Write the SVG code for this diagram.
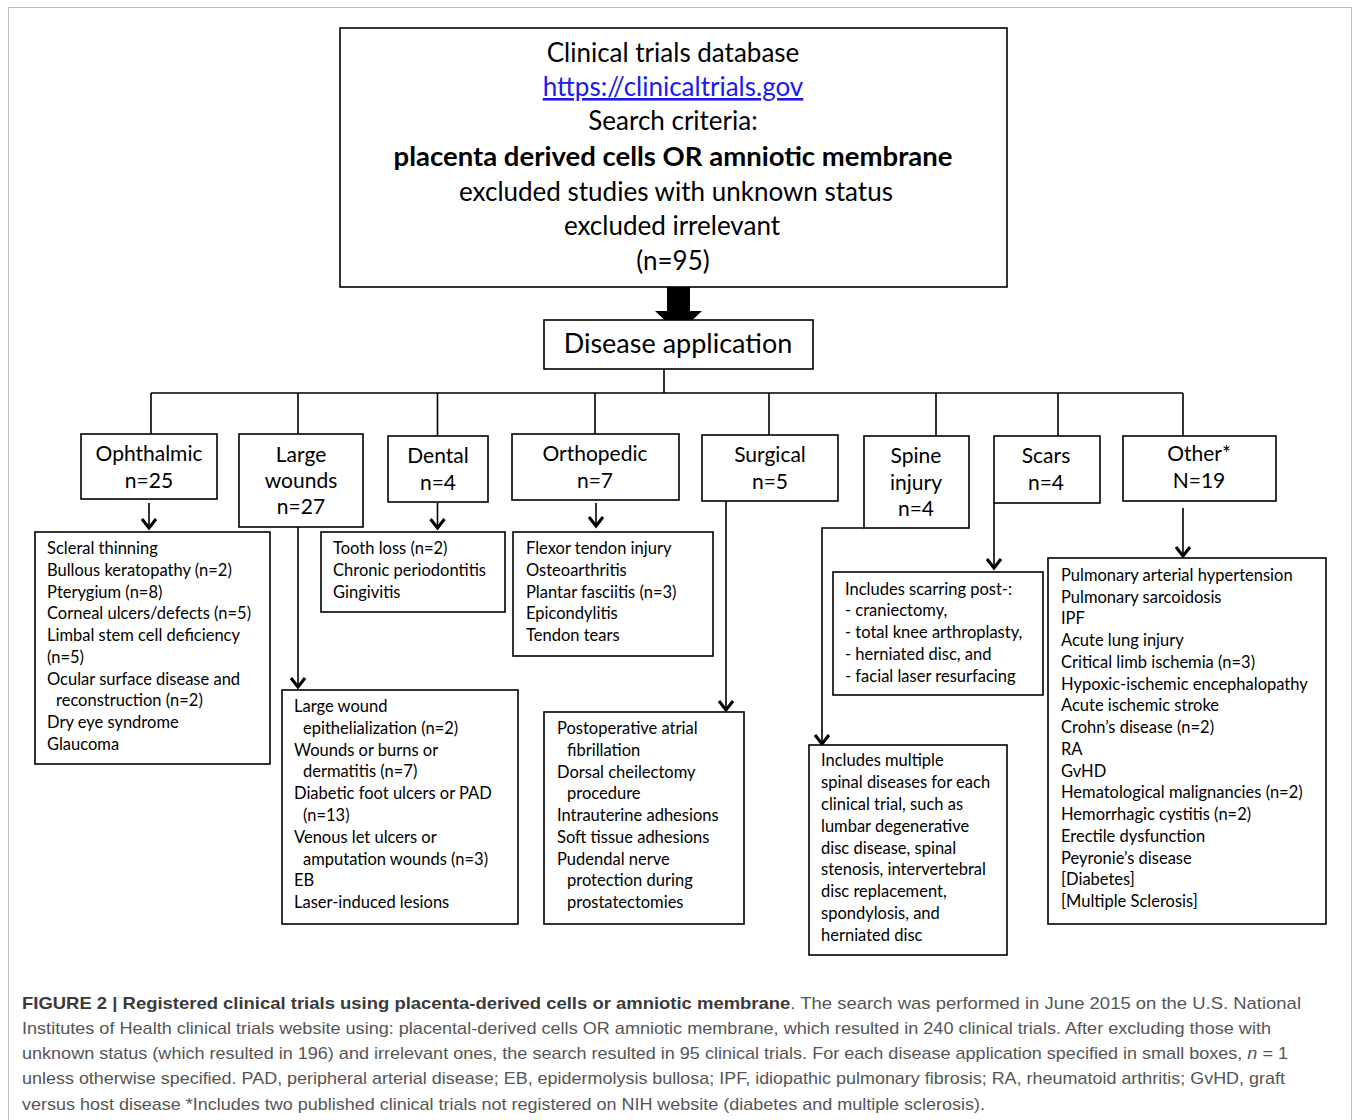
<svg xmlns="http://www.w3.org/2000/svg" width="1356" height="1120" viewBox="0 0 1356 1120">
<style>
.box{fill:#fff;stroke:#000;stroke-width:1.6}
.t{font-family:Lato,"Noto Sans",sans-serif;fill:#000}
.top{font-size:26px;text-anchor:middle}
.cat{font-size:21px;text-anchor:middle}
.det{font-size:16.5px}
.ln{fill:none;stroke:#000;stroke-width:1.6}
.cap{font-family:"Liberation Sans",Arial,sans-serif;font-size:17px;fill:#555}
</style>
<defs>
<marker id="chev" markerUnits="userSpaceOnUse" markerWidth="24" markerHeight="24" refX="0" refY="0" viewBox="-12 -12 24 24" orient="auto" overflow="visible">
<path d="M-9,-7 L0,0 L-9,7" fill="none" stroke="#000" stroke-width="3"/>
</marker>
</defs>
<rect x="8.5" y="7.5" width="1343" height="1200" fill="none" stroke="#bdbdbd" stroke-width="1"/>

<g id="connectors">
<path d="M667,287 H690 V311 H702 L678.5,333 L655,311 H667 Z" fill="#000"/>
<path class="ln" d="M664,369 V393 M151,393 H1183 M151,393 V434 M298,393 V434 M437.5,393 V436 M595,393 V434 M769,393 V435 M936,393 V436 M1058,393 V436 M1183,393 V436"/>
<path class="ln" d="M149,503 V528" marker-end="url(#chev)"/>
<path class="ln" d="M298,527 V687" marker-end="url(#chev)"/>
<path class="ln" d="M437.5,503 V528" marker-end="url(#chev)"/>
<path class="ln" d="M596,503 V526" marker-end="url(#chev)"/>
<path class="ln" d="M726,501 V710" marker-end="url(#chev)"/>
<path class="ln" d="M864,528 H822 V744" marker-end="url(#chev)"/>
<path class="ln" d="M994,503 V568" marker-end="url(#chev)"/>
<path class="ln" d="M1183,508 V556" marker-end="url(#chev)"/>
</g>

<g id="database">
<rect class="box" x="340" y="28" width="667" height="259"/>
<text class="t top" x="673" y="62">Clinical trials database</text>
<text class="t top" x="673" y="96" style="fill:#1a1aee" text-decoration="underline">https://clinicaltrials.gov</text>
<text class="t top" x="673" y="130">Search criteria:</text>
<text class="t top" x="673" y="166" font-weight="bold" style="font-size:27.5px">placenta derived cells OR amniotic membrane</text>
<text class="t top" x="676" y="201">excluded studies  with unknown  status</text>
<text class="t top" x="672" y="235">excluded irrelevant</text>
<text class="t top" x="673" y="270">(n=95)</text>
</g>

<g id="disease-application">
<rect class="box" x="544" y="320" width="269" height="49"/>
<text class="t top" x="678" y="353" style="font-size:27px">Disease application</text>
</g>

<g id="ophthalmic">
<rect class="box" x="81" y="434" width="136" height="65"/>
<text class="t cat" x="149" y="461">Ophthalmic</text>
<text class="t cat" x="149" y="488">n=25</text>
</g>
<g id="large-wounds">
<rect class="box" x="239" y="434" width="124" height="93"/>
<text class="t cat" x="301" y="462">Large</text>
<text class="t cat" x="301" y="488">wounds</text>
<text class="t cat" x="301" y="514">n=27</text>
</g>
<g id="dental">
<rect class="box" x="388" y="436" width="100" height="66"/>
<text class="t cat" x="438" y="463">Dental</text>
<text class="t cat" x="438" y="490">n=4</text>
</g>
<g id="orthopedic">
<rect class="box" x="512" y="434" width="167" height="66"/>
<text class="t cat" x="595" y="461">Orthopedic</text>
<text class="t cat" x="595" y="488">n=7</text>
</g>
<g id="surgical">
<rect class="box" x="702" y="435" width="136" height="66"/>
<text class="t cat" x="770" y="462">Surgical</text>
<text class="t cat" x="770" y="489">n=5</text>
</g>
<g id="spine-injury">
<rect class="box" x="864" y="436" width="105" height="92"/>
<text class="t cat" x="916" y="463">Spine</text>
<text class="t cat" x="916" y="490">injury</text>
<text class="t cat" x="916" y="516">n=4</text>
</g>
<g id="scars">
<rect class="box" x="994" y="436" width="106" height="67"/>
<text class="t cat" x="1046" y="463">Scars</text>
<text class="t cat" x="1046" y="490">n=4</text>
</g>
<g id="other">
<rect class="box" x="1123" y="436" width="153" height="65"/>
<text class="t cat" x="1199" y="461">Other*</text>
<text class="t cat" x="1199" y="488">N=19</text>
</g>

<g id="ophthalmic-list">
<rect class="box" x="35" y="532" width="235" height="232"/>
<text class="t det" x="47" y="554">Scleral thinning</text>
<text class="t det" x="47" y="576">Bullous keratopathy (n=2)</text>
<text class="t det" x="47" y="598">Pterygium (n=8)</text>
<text class="t det" x="47" y="619">Corneal ulcers/defects (n=5)</text>
<text class="t det" x="47" y="641">Limbal stem cell deficiency</text>
<text class="t det" x="47" y="663">(n=5)</text>
<text class="t det" x="47" y="685">Ocular surface disease and</text>
<text class="t det" x="56" y="706">reconstruction  (n=2)</text>
<text class="t det" x="47" y="728">Dry eye syndrome</text>
<text class="t det" x="47" y="750">Glaucoma</text>
</g>

<g id="dental-list">
<rect class="box" x="321" y="532" width="184" height="80"/>
<text class="t det" x="333" y="554">Tooth loss (n=2)</text>
<text class="t det" x="333" y="576">Chronic periodontitis</text>
<text class="t det" x="333" y="598">Gingivitis</text>
</g>

<g id="orthopedic-list">
<rect class="box" x="513" y="532" width="200" height="124"/>
<text class="t det" x="526" y="554">Flexor tendon injury</text>
<text class="t det" x="526" y="576">Osteoarthritis</text>
<text class="t det" x="526" y="598">Plantar fasciitis (n=3)</text>
<text class="t det" x="526" y="619">Epicondylitis</text>
<text class="t det" x="526" y="641">Tendon tears</text>
</g>

<g id="large-wounds-list">
<rect class="box" x="282" y="690" width="236" height="234"/>
<text class="t det" x="294" y="712">Large wound</text>
<text class="t det" x="303" y="734">epithelialization  (n=2)</text>
<text class="t det" x="294" y="756">Wounds or burns or</text>
<text class="t det" x="303" y="777">dermatitis (n=7)</text>
<text class="t det" x="294" y="799">Diabetic foot ulcers or PAD</text>
<text class="t det" x="303" y="821">(n=13)</text>
<text class="t det" x="294" y="843">Venous let ulcers or</text>
<text class="t det" x="303" y="865">amputation wounds  (n=3)</text>
<text class="t det" x="294" y="886">EB</text>
<text class="t det" x="294" y="908">Laser-induced lesions</text>
</g>

<g id="surgical-list">
<rect class="box" x="544" y="712" width="200" height="212"/>
<text class="t det" x="557" y="734">Postoperative atrial</text>
<text class="t det" x="567" y="756">fibrillation</text>
<text class="t det" x="557" y="778">Dorsal cheilectomy</text>
<text class="t det" x="567" y="799">procedure</text>
<text class="t det" x="557" y="821">Intrauterine adhesions</text>
<text class="t det" x="557" y="843">Soft tissue adhesions</text>
<text class="t det" x="557" y="865">Pudendal nerve</text>
<text class="t det" x="567" y="886">protection  during</text>
<text class="t det" x="567" y="908">prostatectomies</text>
</g>

<g id="scars-list">
<rect class="box" x="833" y="572" width="210" height="123"/>
<text class="t det" x="845" y="595">Includes scarring post-:</text>
<text class="t det" x="845" y="616">- craniectomy,</text>
<text class="t det" x="845" y="638">- total knee arthroplasty,</text>
<text class="t det" x="845" y="660">- herniated disc, and</text>
<text class="t det" x="845" y="682">- facial laser resurfacing</text>
</g>

<g id="spine-list">
<rect class="box" x="809" y="745" width="198" height="210"/>
<text class="t det" x="821" y="766">Includes multiple</text>
<text class="t det" x="821" y="788">spinal diseases for each</text>
<text class="t det" x="821" y="810">clinical trial, such as</text>
<text class="t det" x="821" y="832">lumbar degenerative</text>
<text class="t det" x="821" y="854">disc disease, spinal</text>
<text class="t det" x="821" y="875">stenosis, intervertebral</text>
<text class="t det" x="821" y="897">disc replacement,</text>
<text class="t det" x="821" y="919">spondylosis, and</text>
<text class="t det" x="821" y="941">herniated disc</text>
</g>

<g id="other-list">
<rect class="box" x="1048" y="558" width="278" height="366"/>
<text class="t det" x="1061" y="581">Pulmonary arterial hypertension</text>
<text class="t det" x="1061" y="603">Pulmonary sarcoidosis</text>
<text class="t det" x="1061" y="624">IPF</text>
<text class="t det" x="1061" y="646">Acute lung injury</text>
<text class="t det" x="1061" y="668">Critical limb ischemia (n=3)</text>
<text class="t det" x="1061" y="690">Hypoxic-ischemic  encephalopathy</text>
<text class="t det" x="1061" y="711">Acute ischemic stroke</text>
<text class="t det" x="1061" y="733">Crohn’s disease (n=2)</text>
<text class="t det" x="1061" y="755">RA</text>
<text class="t det" x="1061" y="777">GvHD</text>
<text class="t det" x="1061" y="798">Hematological malignancies (n=2)</text>
<text class="t det" x="1061" y="820">Hemorrhagic cystitis (n=2)</text>
<text class="t det" x="1061" y="842">Erectile dysfunction</text>
<text class="t det" x="1061" y="864">Peyronie’s disease</text>
<text class="t det" x="1061" y="885">[Diabetes]</text>
<text class="t det" x="1061" y="907">[Multiple Sclerosis]</text>
</g>

<g id="caption">
<text class="cap" x="22" y="1009" textLength="1279" lengthAdjust="spacingAndGlyphs"><tspan font-weight="bold" fill="#3a3a3a">FIGURE 2 | Registered clinical trials using placenta-derived cells or amniotic membrane</tspan>. The search was performed in June 2015 on the U.S. National</text>
<text class="cap" x="22" y="1034" textLength="1249" lengthAdjust="spacingAndGlyphs">Institutes of Health clinical trials website using: placental-derived cells OR amniotic membrane, which resulted in 240 clinical trials. After excluding those with</text>
<text class="cap" x="22" y="1059" textLength="1266" lengthAdjust="spacingAndGlyphs">unknown status (which resulted in 196) and irrelevant ones, the search resulted in 95 clinical trials. For each disease application specified in small boxes, <tspan font-style="italic">n</tspan> = 1</text>
<text class="cap" x="22" y="1084" textLength="1263" lengthAdjust="spacingAndGlyphs">unless otherwise specified. PAD, peripheral arterial disease; EB, epidermolysis bullosa; IPF, idiopathic pulmonary fibrosis; RA, rheumatoid arthritis; GvHD, graft</text>
<text class="cap" x="22" y="1110" textLength="963" lengthAdjust="spacingAndGlyphs">versus host disease *Includes two published clinical trials not registered on NIH website (diabetes and multiple sclerosis).</text>
</g>
</svg>
